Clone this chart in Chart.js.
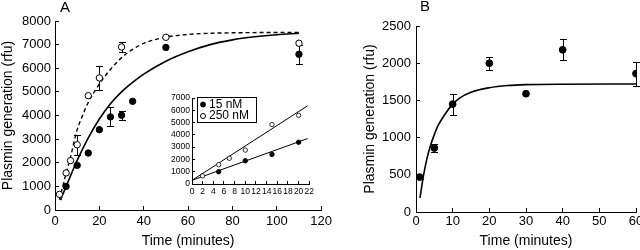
<!DOCTYPE html>
<html>
<head>
<meta charset="utf-8">
<script src="https://cdn.jsdelivr.net/npm/chart.js@4.4.1/dist/chart.umd.min.js"></script>
<style>
html, body { margin: 0; padding: 0; background: #fff; }
#wrap { position: relative; width: 640px; height: 250px; overflow: hidden; }
canvas { position: absolute; }
#canvasA { left: 0; top: 0; }
#canvasInset { left: 150px; top: 85px; }
#canvasB { left: 355px; top: 0; }
</style>
</head>
<body>
<div id="wrap">
<canvas id="canvasA" width="340" height="250"></canvas>
<canvas id="canvasInset" width="170" height="120"></canvas>
<canvas id="canvasB" width="295" height="250"></canvas>
</div>
<script>
// panel A: 15 nM (filled) and 250 nM (open)
var timeA15 = [5, 10, 15, 20, 25, 30, 35, 50, 110];
var plasminA15 = [1000, 1890, 2410, 3400, 3940, 4010, 4600, 6880, 6590];
var errA15 = [0, 0, 0, 0, 400, 200, 0, 0, 390];
var timeA250 = [2, 5, 7, 10, 15, 20, 30, 50, 110];
var plasminA250 = [660, 1570, 2090, 2760, 4840, 5590, 6900, 7310, 7060];
var errA250 = [0, 0, 0, 430, 0, 490, 210, 0, 0];

// fitted curves
var fitTimeA15 = [2.5, 5, 7.5, 10, 15, 20, 25, 30, 35, 40, 50, 60, 70, 80, 90, 100, 110];
var fitA15 = [420, 1000, 1560, 2100, 3050, 3850, 4500, 5000, 5400, 5750, 6300, 6700, 7000, 7200, 7330, 7420, 7480];
var fitTimeA250 = [2, 3.5, 5, 7, 10, 12, 15, 20, 25, 30, 35, 40, 50, 60, 70, 80, 90, 110];
var fitA250 = [440, 1000, 1550, 2250, 3400, 3900, 4550, 5330, 5950, 6450, 6800, 7050, 7320, 7430, 7480, 7500, 7510, 7520];

// inset: first 20 min with straight lines
var insetLineTime = [0, 21.7];
var insetLine15 = [300, 3700];
var insetLine250 = [300, 6370];

// panel B
var timeB = [1, 5, 10, 20, 30, 40, 60];
var plasminB = [470, 860, 1450, 2000, 1590, 2180, 1860];
var errB = [30, 50, 140, 85, 0, 140, 160];
var fitTimeB = [1.1, 2, 3, 4, 5, 6, 8, 10, 12, 15, 20, 25, 30, 40, 60];
var fitB = [190, 480, 720, 900, 1040, 1160, 1320, 1450, 1535, 1610, 1670, 1700, 1712, 1718, 1720];

// tick labels
var xTicksA = [0, 20, 40, 60, 80, 100, 120];
var yTicksA = [0, 1000, 2000, 3000, 4000, 5000, 6000, 7000, 8000];
var xTicksInset = [0, 2, 4, 6, 8, 10, 12, 14, 16, 18, 20, 22];
var yTicksInset = [0, 1000, 2000, 3000, 4000, 5000, 6000, 7000];
var xTicksB = [0, 10, 20, 30, 40, 50, 60];
var yTicksB = [0, 500, 1000, 1500, 2000, 2500];

Chart.defaults.font.family = '"Liberation Sans", Arial, sans-serif';
Chart.defaults.color = '#000';

function pts(xs, ys) {
  return xs.map(function (x, i) { return {x: x, y: ys[i]}; });
}

function axis(pos, tickVals, fit, size, tickLen, pad, titleText, titlePad) {
  return {
    type: 'linear',
    position: pos,
    min: tickVals[0],
    max: tickVals[tickVals.length - 1],
    afterBuildTicks: function (s) {
      s.ticks = tickVals.map(function (v) { return {value: v}; });
    },
    afterFit: function (s) {
      if (pos === 'left') s.width = fit; else s.height = fit;
    },
    border: {display: true, color: '#000', width: 1},
    grid: {display: true, drawOnChartArea: false, color: '#000', tickLength: -tickLen},
    ticks: {
      color: '#000', font: {size: size}, padding: pad, maxRotation: 0, autoSkip: false,
      callback: function (v) { return String(v); }
    },
    title: {
      display: !!titleText, text: titleText || '', color: '#000',
      font: {size: 14}, padding: titlePad || 0
    }
  };
}

var errorBars = {
  id: 'errorBars',
  beforeDatasetsDraw: function (chart) {
    var ctx = chart.ctx, xs = chart.scales.x, ys = chart.scales.y;
    ctx.save();
    ctx.strokeStyle = '#000';
    ctx.lineWidth = 1;
    chart.data.datasets.forEach(function (ds) {
      if (!ds.errors) return;
      ds.data.forEach(function (p, i) {
        var e = ds.errors[i];
        if (!e) return;
        var x = Math.round(xs.getPixelForValue(p.x)) + 0.5;
        var y1 = Math.round(ys.getPixelForValue(p.y - e)) + 0.5;
        var y2 = Math.round(ys.getPixelForValue(p.y + e)) + 0.5;
        ctx.beginPath();
        ctx.moveTo(x, y1); ctx.lineTo(x, y2);
        ctx.moveTo(x - 3.5, y1); ctx.lineTo(x + 3.5, y1);
        ctx.moveTo(x - 3.5, y2); ctx.lineTo(x + 3.5, y2);
        ctx.stroke();
      });
    });
    ctx.restore();
  }
};

var panelLetter = {
  id: 'panelLetter',
  afterDraw: function (chart, args, opts) {
    if (!opts.text) return;
    var ctx = chart.ctx;
    ctx.save();
    ctx.font = '15px "Liberation Sans", Arial, sans-serif';
    ctx.fillStyle = '#000';
    ctx.textAlign = 'center';
    ctx.textBaseline = 'middle';
    ctx.fillText(opts.text, chart.chartArea.left + opts.dx, opts.y);
    ctx.restore();
  }
};

// boxed legend inside the inset
var boxLegend = {
  id: 'boxLegend',
  afterDraw: function (chart, args, opts) {
    var ctx = chart.ctx;
    var items = chart.data.datasets.filter(function (ds) { return ds.label; });
    ctx.save();
    ctx.strokeStyle = '#000';
    ctx.lineWidth = 1;
    ctx.strokeRect(opts.x + 0.5, opts.y + 0.5, opts.w, opts.h);
    ctx.font = opts.size + 'px "Liberation Sans", Arial, sans-serif';
    ctx.textBaseline = 'middle';
    items.forEach(function (ds, i) {
      var cy = opts.y + opts.rowTop + i * opts.rowH;
      ctx.beginPath();
      ctx.arc(opts.x + 6, cy, 2.5, 0, 2 * Math.PI);
      ctx.fillStyle = ds.backgroundColor;
      ctx.fill();
      ctx.stroke();
      ctx.fillStyle = '#000';
      ctx.fillText(ds.label, opts.x + 12, cy);
    });
    ctx.restore();
  }
};

new Chart(document.getElementById('canvasA'), {
  type: 'scatter',
  data: {
    datasets: [
      {
        data: pts(timeA15, plasminA15), errors: errA15, order: 1,
        pointRadius: 3.2, backgroundColor: '#000', borderColor: '#000', borderWidth: 1
      },
      {
        data: pts(timeA250, plasminA250), errors: errA250, order: 1,
        pointRadius: 3.2, backgroundColor: '#fff', borderColor: '#000', borderWidth: 1
      },
      {
        type: 'line', data: pts(fitTimeA15, fitA15), order: 2,
        borderColor: '#000', borderWidth: 1.6, pointRadius: 0, fill: false,
        cubicInterpolationMode: 'monotone'
      },
      {
        type: 'line', data: pts(fitTimeA250, fitA250), order: 2,
        borderColor: '#000', borderWidth: 1.4, borderDash: [4, 3], pointRadius: 0, fill: false,
        cubicInterpolationMode: 'monotone'
      }
    ]
  },
  options: {
    responsive: false,
    animation: false,
    layout: {padding: {left: 0, top: 21, right: 13, bottom: 0}},
    plugins: {
      legend: {display: false},
      tooltip: {enabled: false},
      panelLetter: {text: 'A', dx: 10, y: 8}
    },
    scales: {
      x: axis('bottom', xTicksA, 40, 13, 4, 8, 'Time (minutes)', 0),
      y: axis('left', yTicksA, 55, 13, 4, 8, 'Plasmin generation (rfu)', 0)
    }
  },
  plugins: [errorBars, panelLetter]
});

new Chart(document.getElementById('canvasInset'), {
  type: 'scatter',
  data: {
    datasets: [
      {
        label: '15 nM', data: pts(timeA15.slice(0, 4), plasminA15.slice(0, 4)), order: 1,
        pointRadius: 2.2, backgroundColor: '#000', borderColor: '#000', borderWidth: 1
      },
      {
        label: '250 nM', data: pts(timeA250.slice(0, 6), plasminA250.slice(0, 6)), order: 1,
        pointRadius: 2.2, backgroundColor: '#fff', borderColor: '#000', borderWidth: 0.8
      },
      {
        type: 'line', data: pts(insetLineTime, insetLine15), order: 2,
        borderColor: '#000', borderWidth: 1, pointRadius: 0, fill: false
      },
      {
        type: 'line', data: pts(insetLineTime, insetLine250), order: 2,
        borderColor: '#000', borderWidth: 1, pointRadius: 0, fill: false
      }
    ]
  },
  options: {
    responsive: false,
    animation: false,
    layout: {padding: {left: 0, top: 13, right: 9, bottom: 0}},
    plugins: {
      legend: {display: false},
      tooltip: {enabled: false},
      boxLegend: {x: 47, y: 12, w: 59, h: 25, size: 12, rowTop: 7.5, rowH: 11.5}
    },
    scales: {
      x: axis('bottom', xTicksInset, 21, 8.5, 3, 6),
      y: axis('left', yTicksInset, 42, 8.5, 3, 5)
    }
  },
  plugins: [boxLegend]
});

new Chart(document.getElementById('canvasB'), {
  type: 'scatter',
  data: {
    datasets: [
      {
        data: pts(timeB, plasminB), errors: errB, order: 1,
        pointRadius: 3.4, backgroundColor: '#000', borderColor: '#000', borderWidth: 1
      },
      {
        type: 'line', data: pts(fitTimeB, fitB), order: 2,
        borderColor: '#000', borderWidth: 1.6, pointRadius: 0, fill: false,
        cubicInterpolationMode: 'monotone'
      }
    ]
  },
  options: {
    responsive: false,
    animation: false,
    layout: {padding: {left: 0, top: 26, right: 14, bottom: 0}},
    plugins: {
      legend: {display: false},
      tooltip: {enabled: false},
      panelLetter: {text: 'B', dx: 9, y: 7}
    },
    scales: {
      x: axis('bottom', xTicksB, 38, 13, 4, 6, 'Time (minutes)', 0),
      y: axis('left', yTicksB, 61, 13, 4, 9, 'Plasmin generation (rfu)', {top: 6.6, bottom: 0})
    }
  },
  plugins: [errorBars, panelLetter]
});
</script>
</body>
</html>
